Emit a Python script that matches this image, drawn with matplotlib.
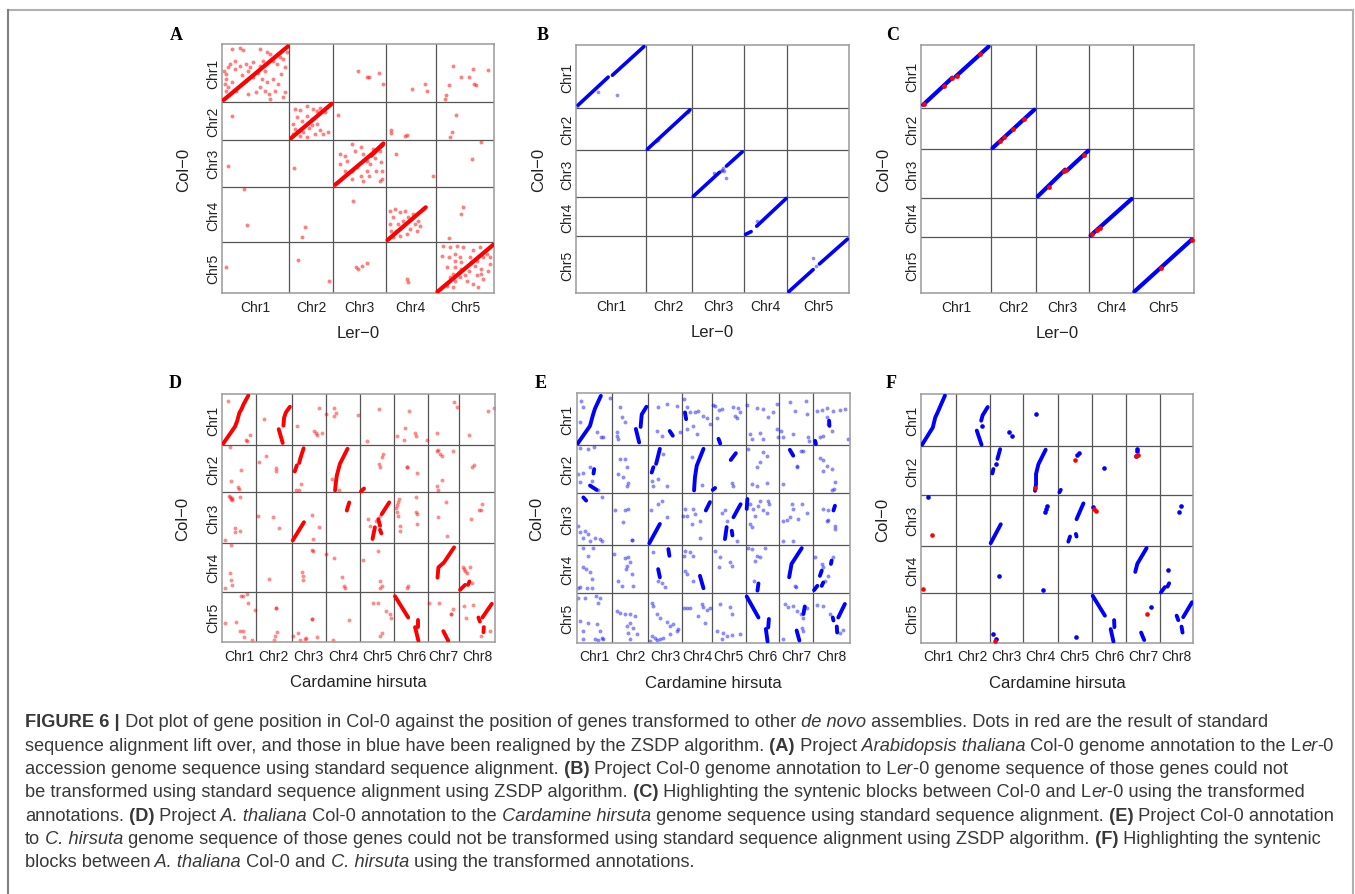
import matplotlib
matplotlib.use('Agg')
import matplotlib.pyplot as plt
from matplotlib.lines import Line2D
import numpy as np

plt.rcParams['font.family'] = ['Liberation Sans', 'DejaVu Sans']

W, H = 1355, 895
fig = plt.figure(figsize=(W / 100, H / 100), dpi=100)
fig.patch.set_facecolor('white')

col0_chr = ['Chr1', 'Chr2', 'Chr3', 'Chr4', 'Chr5']
ler_chr = ['Chr1', 'Chr2', 'Chr3', 'Chr4', 'Chr5']
chir_chr = ['Chr1', 'Chr2', 'Chr3', 'Chr4', 'Chr5', 'Chr6', 'Chr7', 'Chr8']

# chromosome extents as laid out in each panel (relative units)
a_xsize = [67.0, 43.7, 53.0, 49.7, 58.6]
a_ysize = [58.3, 37.4, 47.0, 55.6, 51.0]
b_xsize = [70.0, 45.7, 52.6, 42.7, 62.3]
b_ysize = [63.6, 41.7, 47.3, 39.0, 56.4]
c_xsize = [69.7, 45.0, 53.6, 43.2, 61.8]
c_ysize = [63.3, 41.3, 48.4, 39.0, 56.6]
d_xsize = [33.4, 36.0, 34.0, 34.6, 34.0, 34.0, 30.7, 36.0]
d_ysize = [51.0, 47.3, 50.7, 48.7, 50.6]
e_xsize = [35.0, 36.6, 34.0, 29.4, 34.0, 33.6, 34.0, 36.7]
e_ysize = [51.7, 48.3, 52.0, 47.7, 50.0]
f_xsize = [34.7, 34.0, 33.6, 34.4, 34.3, 34.0, 34.3, 32.7]
f_ysize = [52.3, 48.4, 51.0, 47.6, 49.7]

# blocks: (target chr, Col-0 chr, [(pos in target, pos in Col-0), ...]) as fraction of chromosome
# dots:   (target chr, Col-0 chr, pos in target, pos in Col-0)
a_blocks = [
    (1, 1, [(0.02, 0.04), (0.98, 0.96)]),
    (2, 2, [(0.04, 0.04), (0.97, 0.96)]),
    (3, 3, [(0.04, 0.04), (0.94, 0.89)]),
    (3, 3, [(0.72, 0.66), (0.95, 0.92)]),
    (4, 4, [(0.03, 0.04), (0.80, 0.63)]),
    (5, 5, [(0.03, 0.03), (0.98, 0.95)]),
]
a_dots = [
    (1, 1, 0.14, 0.91), (1, 1, 0.26, 0.93), (1, 1, 0.31, 0.90), (1, 1, 0.56, 0.92), (1, 1, 0.66, 0.86),
    (1, 1, 0.71, 0.83), (1, 1, 0.11, 0.66), (1, 1, 0.09, 0.60), (1, 1, 0.06, 0.49), (1, 1, 0.06, 0.40),
    (1, 1, 0.04, 0.31), (1, 1, 0.09, 0.26), (1, 1, 0.19, 0.71), (1, 1, 0.26, 0.63), (1, 1, 0.36, 0.66),
    (1, 1, 0.41, 0.60), (1, 1, 0.39, 0.54), (1, 1, 0.46, 0.69), (1, 1, 0.56, 0.63), (1, 1, 0.61, 0.71),
    (1, 1, 0.64, 0.54), (1, 1, 0.76, 0.71), (1, 1, 0.81, 0.66), (1, 1, 0.86, 0.77), (1, 1, 0.91, 0.74),
    (1, 1, 0.93, 0.60), (1, 1, 0.88, 0.49), (1, 1, 0.76, 0.40), (1, 1, 0.66, 0.34), (1, 1, 0.64, 0.20),
    (1, 1, 0.69, 0.14), (1, 1, 0.79, 0.20), (1, 1, 0.56, 0.26), (1, 1, 0.51, 0.17), (1, 1, 0.39, 0.14),
    (1, 1, 0.21, 0.20), (1, 1, 0.14, 0.34), (1, 1, 0.06, 0.20), (1, 1, 0.29, 0.46), (1, 1, 0.83, 0.31),
    (1, 1, 0.93, 0.17), (1, 1, 0.91, 0.09), (1, 1, 0.71, 0.06), (1, 1, 0.36, 0.37), (1, 1, 0.19, 0.57),
    (1, 1, 0.46, 0.43), (1, 1, 0.54, 0.51), (1, 1, 0.59, 0.40), (1, 1, 0.96, 0.86), (1, 1, 0.03, 0.54),
    (3, 1, 0.48, 0.53), (3, 1, 0.64, 0.43), (3, 1, 0.67, 0.44), (3, 1, 0.87, 0.50), (3, 1, 0.94, 0.31),
    (4, 1, 0.53, 0.22), (4, 1, 0.78, 0.31), (4, 1, 0.83, 0.20),
    (5, 1, 0.29, 0.63), (5, 1, 0.44, 0.44), (5, 1, 0.64, 0.57), (5, 1, 0.57, 0.43), (5, 1, 0.90, 0.55),
    (5, 1, 0.66, 0.31), (5, 1, 0.69, 0.30), (5, 1, 0.22, 0.29), (5, 1, 0.18, 0.13), (5, 1, 0.16, 0.06),
    (1, 2, 0.15, 0.64),
    (2, 2, 0.13, 0.82), (2, 2, 0.24, 0.79), (2, 2, 0.40, 0.91), (2, 2, 0.55, 0.82), (2, 2, 0.63, 0.76),
    (2, 2, 0.17, 0.60), (2, 2, 0.28, 0.51), (2, 2, 0.09, 0.42), (2, 2, 0.13, 0.29), (2, 2, 0.21, 0.24),
    (2, 2, 0.32, 0.20), (2, 2, 0.44, 0.31), (2, 2, 0.51, 0.38), (2, 2, 0.63, 0.42), (2, 2, 0.70, 0.26),
    (2, 2, 0.78, 0.15), (2, 2, 0.89, 0.20), (2, 2, 0.40, 0.64), (2, 2, 0.51, 0.55), (2, 2, 0.09, 0.15),
    (2, 2, 0.24, 0.11), (2, 2, 0.40, 0.06), (2, 2, 0.59, 0.15), (2, 2, 0.82, 0.73), (2, 2, 0.70, 0.86),
    (3, 2, 0.10, 0.67),
    (4, 2, 0.10, 0.26), (4, 2, 0.11, 0.17), (4, 2, 0.38, 0.11), (4, 2, 0.43, 0.13),
    (5, 2, 0.34, 0.65), (5, 2, 0.27, 0.20), (5, 2, 0.25, 0.08),
    (1, 3, 0.08, 0.43), (2, 3, 0.11, 0.40),
    (3, 3, 0.13, 0.70), (3, 3, 0.23, 0.66), (3, 3, 0.36, 0.91), (3, 3, 0.42, 0.77), (3, 3, 0.52, 0.84),
    (3, 3, 0.57, 0.70), (3, 3, 0.13, 0.48), (3, 3, 0.26, 0.55), (3, 3, 0.35, 0.34), (3, 3, 0.45, 0.41),
    (3, 3, 0.64, 0.55), (3, 3, 0.79, 0.62), (3, 3, 0.89, 0.77), (3, 3, 0.90, 0.52), (3, 3, 0.92, 0.34),
    (3, 3, 0.89, 0.13), (3, 3, 0.67, 0.23), (3, 3, 0.52, 0.23), (3, 3, 0.57, 0.13), (3, 3, 0.35, 0.16),
    (3, 3, 0.70, 0.48), (3, 3, 0.82, 0.34), (3, 3, 0.76, 0.80), (3, 3, 0.23, 0.34), (3, 3, 0.64, 0.34),
    (3, 3, 0.92, 0.16),
    (4, 3, 0.20, 0.70), (4, 3, 0.95, 0.23),
    (5, 3, 0.78, 0.96), (5, 3, 0.62, 0.60),
    (1, 4, 0.33, 0.96), (1, 4, 0.37, 0.31), (2, 4, 0.37, 0.28), (2, 4, 0.30, 0.09), (3, 4, 0.37, 0.75),
    (4, 4, 0.08, 0.57), (4, 4, 0.18, 0.60), (4, 4, 0.28, 0.54), (4, 4, 0.15, 0.45), (4, 4, 0.08, 0.33),
    (4, 4, 0.25, 0.33), (4, 4, 0.35, 0.39), (4, 4, 0.45, 0.45), (4, 4, 0.55, 0.51), (4, 4, 0.65, 0.39),
    (4, 4, 0.68, 0.30), (4, 4, 0.62, 0.21), (4, 4, 0.48, 0.24), (4, 4, 0.42, 0.15), (4, 4, 0.28, 0.12),
    (4, 4, 0.15, 0.09), (4, 4, 0.75, 0.60), (4, 4, 0.11, 0.21), (4, 4, 0.38, 0.57), (4, 4, 0.58, 0.33),
    (4, 4, 0.21, 0.21),
    (5, 4, 0.46, 0.63), (5, 4, 0.43, 0.51), (5, 4, 0.23, 0.07),
    (1, 5, 0.06, 0.52), (2, 5, 0.19, 0.65), (2, 5, 0.90, 0.25),
    (3, 5, 0.43, 0.52), (3, 5, 0.48, 0.48), (3, 5, 0.54, 0.54), (3, 5, 0.65, 0.60),
    (4, 5, 0.42, 0.29), (4, 5, 0.45, 0.22),
    (5, 5, 0.13, 0.93), (5, 5, 0.24, 0.90), (5, 5, 0.36, 0.93), (5, 5, 0.47, 0.90), (5, 5, 0.64, 0.84),
    (5, 5, 0.76, 0.90), (5, 5, 0.87, 0.77), (5, 5, 0.10, 0.74), (5, 5, 0.22, 0.71), (5, 5, 0.33, 0.64),
    (5, 5, 0.41, 0.71), (5, 5, 0.59, 0.71), (5, 5, 0.70, 0.64), (5, 5, 0.81, 0.71), (5, 5, 0.93, 0.58),
    (5, 5, 0.19, 0.51), (5, 5, 0.33, 0.51), (5, 5, 0.44, 0.48), (5, 5, 0.56, 0.44), (5, 5, 0.67, 0.54),
    (5, 5, 0.78, 0.48), (5, 5, 0.90, 0.44), (5, 5, 0.24, 0.31), (5, 5, 0.33, 0.25), (5, 5, 0.41, 0.31),
    (5, 5, 0.53, 0.25), (5, 5, 0.64, 0.18), (5, 5, 0.73, 0.12), (5, 5, 0.81, 0.28), (5, 5, 0.30, 0.12),
    (5, 5, 0.19, 0.15), (5, 5, 0.39, 0.41), (5, 5, 0.50, 0.35), (5, 5, 0.70, 0.35), (5, 5, 0.78, 0.38),
    (5, 5, 0.30, 0.38), (5, 5, 0.93, 0.71), (5, 5, 0.61, 0.61), (5, 5, 0.44, 0.61), (5, 5, 0.33, 0.77),
]

b_blocks = [
    (1, 1, [(0.03, 0.05), (0.46, 0.49)]), (1, 1, [(0.52, 0.52), (0.97, 0.97)]),
    (2, 2, [(0.03, 0.02), (0.96, 0.96)]),
    (3, 3, [(0.03, 0.02), (0.53, 0.53)]), (3, 3, [(0.66, 0.66), (0.96, 0.96)]),
    (4, 4, [(0.03, 0.05), (0.16, 0.12)]), (4, 4, [(0.29, 0.26), (0.98, 0.97)]),
    (5, 5, [(0.03, 0.02), (0.42, 0.41)]), (5, 5, [(0.52, 0.51), (0.97, 0.95)]),
]
b_dots = [
    (1, 1, 0.32, 0.25), (1, 1, 0.59, 0.21), (1, 1, 0.02, 0.03), (2, 2, 0.22, 0.22), (2, 2, 0.26, 0.25),
    (2, 2, 0.91, 0.90), (3, 3, 0.43, 0.51), (3, 3, 0.57, 0.58), (3, 3, 0.61, 0.56), (3, 3, 0.66, 0.41),
    (3, 3, 0.60, 0.62), (3, 3, 0.56, 0.56), (4, 4, 0.30, 0.40), (5, 5, 0.41, 0.61), (5, 5, 0.47, 0.47),
]

c_blocks = [
    (1, 1, [(0.03, 0.05), (0.45, 0.48)]), (1, 1, [(0.50, 0.50), (0.97, 0.97)]),
    (2, 2, [(0.04, 0.03), (0.97, 0.96)]),
    (3, 3, [(0.04, 0.03), (0.55, 0.58)]), (3, 3, [(0.60, 0.58), (0.98, 0.97)]),
    (4, 4, [(0.03, 0.03), (0.98, 0.97)]),
    (5, 5, [(0.03, 0.03), (0.96, 0.95)]),
]
c_red = [
    (1, 1, 0.04, 0.06), (1, 1, 0.33, 0.34), (1, 1, 0.44, 0.47), (1, 1, 0.51, 0.51), (1, 1, 0.85, 0.85),
    (2, 2, 0.21, 0.21), (2, 2, 0.30, 0.30), (2, 2, 0.49, 0.49), (2, 2, 0.74, 0.73),
    (3, 3, 0.24, 0.23), (3, 3, 0.53, 0.56), (3, 3, 0.56, 0.58), (3, 3, 0.90, 0.89),
    (4, 4, 0.07, 0.07), (4, 4, 0.18, 0.17), (4, 4, 0.25, 0.22),
    (5, 5, 0.46, 0.44), (5, 5, 0.96, 0.95),
]

d_blocks = [
    (1, 1, [(0.03, 0.03), (0.38, 0.36), (0.45, 0.48), (0.51, 0.63), (0.58, 0.71), (0.63, 0.79), (0.78, 0.97)]),
    (2, 1, [(0.95, 0.75), (0.84, 0.64), (0.79, 0.54), (0.77, 0.38)]), (2, 1, [(0.64, 0.31), (0.75, 0.04)]),
    (3, 2, [(0.35, 0.93), (0.26, 0.73), (0.22, 0.62)]), (3, 2, [(0.15, 0.57), (0.09, 0.44)]),
    (4, 2, [(0.63, 0.92), (0.41, 0.60), (0.32, 0.35), (0.29, 0.18), (0.27, 0.04)]),
    (5, 2, [(0.02, 0.02), (0.11, 0.08)]),
    (3, 3, [(0.03, 0.05), (0.36, 0.41)]),
    (4, 3, [(0.68, 0.80), (0.61, 0.64)]),
    (5, 3, [(0.85, 0.80), (0.63, 0.57)]), (5, 3, [(0.53, 0.47), (0.58, 0.34)]),
    (5, 3, [(0.43, 0.31), (0.36, 0.08)]), (5, 3, [(0.58, 0.26), (0.62, 0.19)]),
    (7, 4, [(0.84, 0.91), (0.51, 0.60), (0.33, 0.50), (0.30, 0.29)]),
    (8, 4, [(0.29, 0.21), (0.25, 0.14)]), (8, 4, [(0.17, 0.14), (0.03, 0.04)]),
    (6, 5, [(0.02, 0.91), (0.41, 0.49)]), (6, 5, [(0.71, 0.44), (0.71, 0.30)]), (6, 5, [(0.61, 0.30), (0.71, 0.03)]),
    (7, 5, [(0.49, 0.22), (0.65, 0.03)]),
    (8, 5, [(0.91, 0.76), (0.65, 0.49)]), (8, 5, [(0.54, 0.49), (0.58, 0.41)]), (8, 5, [(0.69, 0.30), (0.68, 0.20)]),
]
d_dots = [
    (1, 1, 0.16, 0.87), (1, 1, 0.75, 0.08), (1, 1, 0.83, 0.20), (1, 1, 0.71, 0.10),
    (2, 1, 0.23, 0.51),
    (3, 1, 0.67, 0.28), (3, 1, 0.71, 0.23), (3, 1, 0.74, 0.20), (3, 1, 0.16, 0.37), (3, 1, 0.79, 0.72), (3, 1, 0.90, 0.24),
    (4, 1, 0.24, 0.72), (4, 1, 0.29, 0.63), (4, 1, 0.23, 0.56), (4, 1, 0.02, 0.61), (4, 1, 0.94, 0.59),
    (5, 1, 0.56, 0.71), (5, 1, 0.21, 0.08),
    (6, 1, 0.44, 0.66), (6, 1, 0.31, 0.33), (6, 1, 0.61, 0.24), (6, 1, 0.63, 0.18), (6, 1, 0.07, 0.17),
    (6, 1, 0.29, 0.10), (6, 1, 0.95, 0.10),
    (7, 1, 0.84, 0.84), (7, 1, 0.92, 0.74), (7, 1, 0.29, 0.23),
    (8, 1, 0.97, 0.73), (8, 1, 0.81, 0.66), (8, 1, 0.28, 0.20),
    (1, 2, 0.23, 0.95), (1, 2, 0.55, 0.47), (1, 2, 0.26, 0.23), (1, 2, 0.48, 0.11), (1, 2, 0.51, 0.08),
    (2, 2, 0.09, 0.65), (2, 2, 0.28, 0.77), (2, 2, 0.56, 0.51), (2, 2, 0.56, 0.44),
    (3, 2, 0.26, 0.18), (3, 2, 0.21, 0.05), (3, 2, 0.12, 0.04),
    (4, 2, 0.19, 0.28), (4, 2, 0.37, 0.05),
    (5, 2, 0.68, 0.81), (5, 2, 0.63, 0.74), (5, 2, 0.56, 0.60), (5, 2, 0.58, 0.53),
    (6, 2, 0.38, 0.53), (6, 2, 0.38, 0.53), (6, 2, 0.66, 0.40),
    (7, 2, 0.27, 0.88), (7, 2, 0.38, 0.82), (7, 2, 0.43, 0.77), (7, 2, 0.33, 0.89), (7, 2, 0.79, 0.88),
    (7, 2, 0.43, 0.26), (7, 2, 0.27, 0.14), (7, 2, 0.33, 0.05),
    (8, 2, 0.42, 0.58), (8, 2, 0.35, 0.53),
    (1, 3, 0.20, 0.93), (1, 3, 0.25, 0.86), (1, 3, 0.28, 0.88), (1, 3, 0.30, 0.84), (1, 3, 0.22, 0.91),
    (1, 3, 0.53, 0.90), (1, 3, 0.38, 0.30), (1, 3, 0.38, 0.21), (1, 3, 0.54, 0.24), (1, 3, 0.08, 0.06),
    (2, 3, 0.06, 0.54), (2, 3, 0.49, 0.52), (2, 3, 0.66, 0.30),
    (3, 3, 0.59, 0.55), (3, 3, 0.81, 0.31), (3, 3, 0.64, 0.08),
    (5, 3, 0.24, 0.47), (5, 3, 0.46, 0.44), (5, 3, 0.28, 0.34), (5, 3, 0.58, 0.54),
    (6, 3, 0.15, 0.87), (6, 3, 0.12, 0.80), (6, 3, 0.07, 0.74), (6, 3, 0.05, 0.70), (6, 3, 0.09, 0.61),
    (6, 3, 0.10, 0.54), (6, 3, 0.17, 0.34), (6, 3, 0.17, 0.24), (6, 3, 0.64, 0.90), (6, 3, 0.64, 0.61),
    (6, 3, 0.66, 0.57), (6, 3, 0.68, 0.38),
    (7, 3, 0.57, 0.80), (7, 3, 0.33, 0.51), (7, 3, 0.62, 0.14),
    (8, 3, 0.63, 0.77), (8, 3, 0.56, 0.66), (8, 3, 0.60, 0.65), (8, 3, 0.33, 0.47),
    (1, 4, 0.25, 0.95), (1, 4, 0.23, 0.38), (1, 4, 0.26, 0.24), (1, 4, 0.30, 0.14), (1, 4, 0.08, 0.08),
    (2, 4, 0.37, 0.27),
    (3, 4, 0.59, 0.86), (3, 4, 0.64, 0.83), (3, 4, 0.29, 0.40), (3, 4, 0.32, 0.33), (3, 4, 0.34, 0.25),
    (4, 4, 0.02, 0.77), (4, 4, 0.25, 0.69), (4, 4, 0.46, 0.31), (4, 4, 0.53, 0.12), (4, 4, 0.56, 0.08),
    (5, 4, 0.07, 0.65), (5, 4, 0.52, 0.84), (5, 4, 0.58, 0.21), (5, 4, 0.63, 0.12), (5, 4, 0.58, 0.08),
    (6, 4, 0.39, 0.12), (6, 4, 0.36, 0.08),
    (8, 4, 0.12, 0.51), (8, 4, 0.15, 0.46), (8, 4, 0.18, 0.42), (8, 4, 0.22, 0.38), (8, 4, 0.31, 0.51), (8, 4, 0.37, 0.18),
    (1, 5, 0.56, 0.91), (1, 5, 0.63, 0.91), (1, 5, 0.73, 0.95), (1, 5, 0.78, 0.78), (1, 5, 0.98, 0.64),
    (1, 5, 0.08, 0.38), (1, 5, 0.40, 0.41), (1, 5, 0.53, 0.23), (1, 5, 0.63, 0.22), (1, 5, 0.65, 0.11),
    (1, 5, 0.88, 0.05),
    (2, 5, 0.56, 0.67), (2, 5, 0.56, 0.67), (2, 5, 0.60, 0.20), (2, 5, 0.54, 0.12), (2, 5, 0.52, 0.05),
    (3, 5, 0.59, 0.46), (3, 5, 0.59, 0.46), (3, 5, 0.05, 0.13), (3, 5, 0.18, 0.18), (3, 5, 0.23, 0.05),
    (3, 5, 0.39, 0.07), (3, 5, 0.42, 0.08), (3, 5, 0.74, 0.10),
    (4, 5, 0.67, 0.44), (4, 5, 0.22, 0.05),
    (5, 5, 0.38, 0.77), (5, 5, 0.53, 0.77), (5, 5, 0.77, 0.61), (5, 5, 0.87, 0.56), (5, 5, 0.90, 0.49),
    (5, 5, 0.58, 0.13), (5, 5, 0.63, 0.18),
    (7, 5, 0.03, 0.77), (7, 5, 0.36, 0.77), (7, 5, 0.82, 0.66), (7, 5, 0.73, 0.56), (7, 5, 0.73, 0.56),
    (8, 5, 0.14, 0.72), (8, 5, 0.19, 0.49), (8, 5, 0.40, 0.74), (8, 5, 0.86, 0.23), (8, 5, 0.60, 0.12),
]

e_blocks = [
    (1, 1, [(0.03, 0.03), (0.38, 0.37), (0.46, 0.57), (0.52, 0.70), (0.69, 0.95)]),
    (2, 1, [(0.95, 0.74), (0.82, 0.59), (0.79, 0.35)]), (2, 1, [(0.66, 0.31), (0.75, 0.05)]),
    (3, 1, [(0.63, 0.27), (0.72, 0.18)]),
    (4, 1, [(0.09, 0.63), (0.13, 0.50)]),
    (5, 1, [(0.20, 0.12), (0.25, 0.03)]),
    (8, 1, [(0.05, 0.08), (0.07, 0.02)]), (8, 1, [(0.43, 0.47), (0.44, 0.37)]),
    (1, 2, [(0.50, 0.50), (0.48, 0.41)]), (1, 2, [(0.38, 0.16), (0.57, 0.07)]),
    (3, 2, [(0.34, 0.92), (0.23, 0.61)]), (3, 2, [(0.15, 0.54), (0.10, 0.43)]),
    (4, 2, [(0.72, 0.92), (0.49, 0.57), (0.43, 0.33), (0.40, 0.06)]),
    (5, 2, [(0.71, 0.83), (0.56, 0.69)]), (5, 2, [(0.03, 0.07), (0.10, 0.11)]),
    (7, 2, [(0.31, 0.90), (0.41, 0.78)]),
    (1, 3, [(0.19, 0.92), (0.27, 0.86)]),
    (3, 3, [(0.03, 0.04), (0.34, 0.41)]),
    (4, 3, [(0.94, 0.83), (0.80, 0.67)]),
    (5, 3, [(0.85, 0.79), (0.64, 0.54)]), (5, 3, [(0.44, 0.35), (0.39, 0.12)]), (5, 3, [(0.59, 0.28), (0.61, 0.19)]),
    (6, 3, [(0.05, 0.89), (0.03, 0.70)]),
    (8, 3, [(0.59, 0.76), (0.55, 0.67)]),
    (3, 4, [(0.59, 0.92), (0.62, 0.78)]), (3, 4, [(0.29, 0.50), (0.34, 0.33)]),
    (4, 4, [(0.60, 0.36), (0.72, 0.10)]),
    (6, 4, [(0.38, 0.20), (0.35, 0.05)]),
    (7, 4, [(0.66, 0.94), (0.36, 0.61), (0.29, 0.33)]),
    (8, 4, [(0.50, 0.68), (0.48, 0.61)]), (8, 4, [(0.23, 0.47), (0.18, 0.36)]),
    (8, 4, [(0.27, 0.22), (0.23, 0.15)]), (8, 4, [(0.11, 0.15), (0.02, 0.06)]),
    (6, 5, [(0.03, 0.93), (0.38, 0.51)]), (6, 5, [(0.69, 0.48), (0.67, 0.31)]), (6, 5, [(0.60, 0.28), (0.65, 0.03)]),
    (7, 5, [(0.75, 0.73), (0.71, 0.58)]), (7, 5, [(0.51, 0.25), (0.59, 0.05)]),
    (8, 5, [(0.86, 0.78), (0.68, 0.51)]), (8, 5, [(0.53, 0.51), (0.55, 0.45)]), (8, 5, [(0.64, 0.33), (0.65, 0.21)]),
]
e_dots = [
    (1, 1, 0.11, 0.86), (1, 1, 0.17, 0.74), (1, 1, 0.08, 0.44), (1, 1, 0.57, 0.25), (1, 1, 0.69, 0.15),
    (1, 1, 0.74, 0.16), (1, 1, 0.95, 0.91),
    (2, 1, 0.23, 0.73), (2, 1, 0.27, 0.54), (2, 1, 0.36, 0.44), (2, 1, 0.14, 0.25), (2, 1, 0.15, 0.18), (2, 1, 0.18, 0.12),
    (3, 1, 0.29, 0.73), (3, 1, 0.54, 0.79), (3, 1, 0.83, 0.76), (3, 1, 0.25, 0.28), (3, 1, 0.39, 0.18), (3, 1, 0.93, 0.25),
    (4, 1, 0.06, 0.89), (4, 1, 0.17, 0.73), (4, 1, 0.26, 0.63), (4, 1, 0.43, 0.63), (4, 1, 0.55, 0.66),
    (4, 1, 0.72, 0.57), (4, 1, 0.83, 0.53), (4, 1, 0.94, 0.41), (4, 1, 0.38, 0.37), (4, 1, 0.49, 0.21), (4, 1, 0.15, 0.31),
    (5, 1, 0.05, 0.78), (5, 1, 0.10, 0.76), (5, 1, 0.20, 0.68), (5, 1, 0.29, 0.70), (5, 1, 0.15, 0.52),
    (5, 1, 0.64, 0.73), (5, 1, 0.78, 0.72), (5, 1, 0.83, 0.63), (5, 1, 0.69, 0.57), (5, 1, 0.74, 0.53),
    (6, 1, 0.05, 0.78), (6, 1, 0.33, 0.72), (6, 1, 0.52, 0.70), (6, 1, 0.67, 0.54), (6, 1, 0.82, 0.63),
    (6, 1, 0.13, 0.21), (6, 1, 0.18, 0.12), (6, 1, 0.43, 0.23), (6, 1, 0.52, 0.12), (6, 1, 0.92, 0.31),
    (6, 1, 0.97, 0.15), (6, 1, 0.94, 0.79),
    (7, 1, 0.31, 0.83), (7, 1, 0.46, 0.66), (7, 1, 0.78, 0.85), (7, 1, 0.82, 0.60), (7, 1, 0.04, 0.28),
    (7, 1, 0.12, 0.15), (7, 1, 0.41, 0.21), (7, 1, 0.85, 0.15), (7, 1, 0.88, 0.08),
    (8, 1, 0.11, 0.65), (8, 1, 0.23, 0.68), (8, 1, 0.36, 0.72), (8, 1, 0.55, 0.66), (8, 1, 0.73, 0.68),
    (8, 1, 0.86, 0.70), (8, 1, 0.36, 0.54), (8, 1, 0.41, 0.41), (8, 1, 0.50, 0.28), (8, 1, 0.18, 0.15),
    (8, 1, 0.27, 0.18), (8, 1, 0.95, 0.12),
    (1, 2, 0.08, 0.94), (1, 2, 0.33, 0.92), (1, 2, 0.48, 0.95), (1, 2, 0.05, 0.40), (1, 2, 0.10, 0.24),
    (1, 2, 0.17, 0.43), (1, 2, 0.38, 0.54), (1, 2, 0.43, 0.26), (1, 2, 0.62, 0.06),
    (2, 2, 0.23, 0.71), (2, 2, 0.36, 0.71), (2, 2, 0.41, 0.54), (2, 2, 0.18, 0.40), (2, 2, 0.32, 0.33),
    (2, 2, 0.45, 0.21), (2, 2, 0.41, 0.16),
    (3, 2, 0.10, 0.26), (3, 2, 0.15, 0.16), (3, 2, 0.54, 0.16), (3, 2, 0.29, 0.30), (3, 2, 0.44, 0.81),
    (4, 2, 0.34, 0.76), (4, 2, 0.66, 0.17),
    (5, 2, 0.59, 0.21), (5, 2, 0.64, 0.16),
    (6, 2, 0.08, 0.91), (6, 2, 0.52, 0.85), (6, 2, 0.62, 0.78), (6, 2, 0.43, 0.64), (6, 2, 0.35, 0.54),
    (6, 2, 0.18, 0.19), (6, 2, 0.33, 0.16), (6, 2, 0.62, 0.21),
    (7, 2, 0.12, 0.19), (7, 2, 0.63, 0.88), (7, 2, 0.71, 0.88), (7, 2, 0.51, 0.57), (7, 2, 0.52, 0.55),
    (8, 2, 0.18, 0.74), (8, 2, 0.27, 0.68), (8, 2, 0.36, 0.57), (8, 2, 0.50, 0.50), (8, 2, 0.27, 0.46),
    (8, 2, 0.59, 0.23), (8, 2, 0.56, 0.09), (8, 2, 0.50, 0.06),
    (1, 3, 0.71, 0.92), (1, 3, 0.05, 0.38), (1, 3, 0.10, 0.25), (1, 3, 0.24, 0.28), (1, 3, 0.33, 0.22),
    (1, 3, 0.52, 0.15), (1, 3, 0.67, 0.12), (1, 3, 0.71, 0.09), (1, 3, 0.38, 0.09), (1, 3, 0.19, 0.14),
    (2, 3, 0.09, 0.67), (2, 3, 0.36, 0.67), (2, 3, 0.45, 0.70), (2, 3, 0.32, 0.44), (2, 3, 0.55, 0.11), (2, 3, 0.55, 0.11),
    (3, 3, 0.29, 0.79), (3, 3, 0.39, 0.86), (3, 3, 0.54, 0.54), (3, 3, 0.07, 0.67),
    (4, 3, 0.09, 0.70), (4, 3, 0.15, 0.57), (4, 3, 0.38, 0.70), (4, 3, 0.43, 0.60), (4, 3, 0.32, 0.41),
    (4, 3, 0.60, 0.46), (4, 3, 0.03, 0.57), (4, 3, 0.60, 0.14),
    (5, 3, 0.29, 0.63), (5, 3, 0.39, 0.67), (5, 3, 0.44, 0.47), (5, 3, 0.74, 0.09),
    (6, 3, 0.13, 0.79), (6, 3, 0.21, 0.70), (6, 3, 0.28, 0.57), (6, 3, 0.38, 0.76), (6, 3, 0.43, 0.86),
    (6, 3, 0.67, 0.86), (6, 3, 0.70, 0.79), (6, 3, 0.52, 0.67), (6, 3, 0.62, 0.62), (6, 3, 0.13, 0.41), (6, 3, 0.18, 0.35),
    (7, 3, 0.36, 0.79), (7, 3, 0.41, 0.70), (7, 3, 0.66, 0.79), (7, 3, 0.80, 0.63), (7, 3, 0.12, 0.47),
    (7, 3, 0.22, 0.49), (7, 3, 0.31, 0.54), (7, 3, 0.56, 0.51), (7, 3, 0.10, 0.09), (7, 3, 0.41, 0.08),
    (8, 3, 0.27, 0.70), (8, 3, 0.41, 0.67), (8, 3, 0.36, 0.47), (8, 3, 0.41, 0.49), (8, 3, 0.59, 0.38), (8, 3, 0.59, 0.31),
    (1, 4, 0.19, 0.94), (1, 4, 0.46, 0.94), (1, 4, 0.33, 0.78), (1, 4, 0.19, 0.54), (1, 4, 0.27, 0.50),
    (1, 4, 0.38, 0.43), (1, 4, 0.43, 0.29), (1, 4, 0.03, 0.10), (1, 4, 0.10, 0.13), (1, 4, 0.29, 0.10), (1, 4, 0.43, 0.10),
    (2, 4, 0.05, 0.82), (2, 4, 0.36, 0.73), (2, 4, 0.45, 0.75), (2, 4, 0.50, 0.64), (2, 4, 0.41, 0.57),
    (2, 4, 0.39, 0.50), (2, 4, 0.55, 0.40), (2, 4, 0.18, 0.26), (2, 4, 0.27, 0.15), (2, 4, 0.59, 0.15),
    (3, 4, 0.15, 0.85), (3, 4, 0.49, 0.12), (3, 4, 0.39, 0.22), (3, 4, 0.29, 0.26),
    (4, 4, 0.09, 0.89), (4, 4, 0.06, 0.78), (4, 4, 0.26, 0.85), (4, 4, 0.38, 0.78), (4, 4, 0.09, 0.47),
    (4, 4, 0.15, 0.40), (4, 4, 0.38, 0.26),
    (5, 4, 0.10, 0.89), (5, 4, 0.25, 0.75), (5, 4, 0.54, 0.64), (5, 4, 0.59, 0.57), (5, 4, 0.20, 0.54),
    (6, 4, 0.08, 0.94), (6, 4, 0.18, 0.92), (6, 4, 0.57, 0.94), (6, 4, 0.33, 0.78), (6, 4, 0.28, 0.68),
    (6, 4, 0.43, 0.75), (6, 4, 0.25, 0.26),
    (7, 4, 0.46, 0.15), (7, 4, 0.49, 0.12),
    (8, 4, 0.05, 0.75), (8, 4, 0.23, 0.61), (8, 4, 0.27, 0.54), (8, 4, 0.41, 0.36), (8, 4, 0.32, 0.26), (8, 4, 0.55, 0.75),
    (1, 5, 0.05, 0.91), (1, 5, 0.24, 0.91), (1, 5, 0.55, 0.95), (1, 5, 0.67, 0.91), (1, 5, 0.62, 0.81),
    (1, 5, 0.33, 0.41), (1, 5, 0.10, 0.45), (1, 5, 0.19, 0.25), (1, 5, 0.57, 0.38), (1, 5, 0.67, 0.25),
    (1, 5, 0.52, 0.08), (1, 5, 0.62, 0.06), (1, 5, 0.71, 0.11), (1, 5, 0.76, 0.08), (1, 5, 0.19, 0.08),
    (2, 5, 0.14, 0.65), (2, 5, 0.23, 0.61), (2, 5, 0.36, 0.58), (2, 5, 0.50, 0.58), (2, 5, 0.64, 0.55),
    (2, 5, 0.50, 0.41), (2, 5, 0.59, 0.31), (2, 5, 0.68, 0.18), (2, 5, 0.45, 0.21), (2, 5, 0.50, 0.08), (2, 5, 0.41, 0.35),
    (3, 5, 0.10, 0.81), (3, 5, 0.15, 0.75), (3, 5, 0.25, 0.58), (3, 5, 0.34, 0.51), (3, 5, 0.54, 0.43),
    (3, 5, 0.64, 0.35), (3, 5, 0.74, 0.38), (3, 5, 0.83, 0.25), (3, 5, 0.88, 0.28), (3, 5, 0.64, 0.18),
    (3, 5, 0.44, 0.11), (3, 5, 0.10, 0.15), (3, 5, 0.20, 0.11), (3, 5, 0.25, 0.06), (3, 5, 0.34, 0.08), (3, 5, 0.05, 0.05),
    (4, 5, 0.06, 0.70), (4, 5, 0.15, 0.70), (4, 5, 0.26, 0.70), (4, 5, 0.66, 0.79), (4, 5, 0.72, 0.73),
    (4, 5, 0.83, 0.66), (4, 5, 0.94, 0.70), (4, 5, 0.55, 0.55), (4, 5, 0.77, 0.41),
    (5, 5, 0.25, 0.79), (5, 5, 0.54, 0.73), (5, 5, 0.59, 0.58), (5, 5, 0.34, 0.21), (5, 5, 0.44, 0.15),
    (5, 5, 0.59, 0.17), (5, 5, 0.83, 0.19), (5, 5, 0.15, 0.25), (5, 5, 0.29, 0.08),
    (7, 5, 0.17, 0.78), (7, 5, 0.26, 0.73), (7, 5, 0.41, 0.75), (7, 5, 0.51, 0.65), (7, 5, 0.63, 0.58),
    (7, 5, 0.69, 0.51), (7, 5, 0.80, 0.71), (7, 5, 0.66, 0.31), (7, 5, 0.71, 0.25), (7, 5, 0.12, 0.08),
    (8, 5, 0.09, 0.77), (8, 5, 0.27, 0.75), (8, 5, 0.45, 0.58), (8, 5, 0.73, 0.21), (8, 5, 0.82, 0.26),
]

f_blocks = [
    (1, 1, [(0.03, 0.03), (0.34, 0.36), (0.41, 0.55), (0.48, 0.65), (0.69, 0.97)]),
    (2, 1, [(0.94, 0.75), (0.79, 0.59), (0.75, 0.49)]), (2, 1, [(0.62, 0.30), (0.76, 0.03)]),
    (3, 2, [(0.31, 0.94), (0.23, 0.74)]), (3, 2, [(0.11, 0.53), (0.08, 0.44)]),
    (4, 2, [(0.65, 0.93), (0.44, 0.63), (0.37, 0.43), (0.37, 0.22), (0.34, 0.08)]),
    (5, 2, [(0.09, 0.10), (0.05, 0.05)]),
    (3, 3, [(0.03, 0.05), (0.33, 0.42)]),
    (5, 3, [(0.75, 0.83), (0.55, 0.52)]), (5, 3, [(0.36, 0.18), (0.31, 0.08)]), (5, 3, [(0.53, 0.23), (0.55, 0.18)]),
    (7, 4, [(0.60, 0.95), (0.33, 0.62), (0.27, 0.45)]),
    (8, 4, [(0.27, 0.21), (0.22, 0.14)]), (8, 4, [(0.14, 0.13), (0.02, 0.02)]),
    (6, 5, [(0.02, 0.95), (0.38, 0.55)]), (6, 5, [(0.65, 0.46), (0.66, 0.32)]), (6, 5, [(0.55, 0.28), (0.63, 0.03)]),
    (7, 5, [(0.44, 0.21), (0.53, 0.06)]),
    (8, 5, [(0.97, 0.82), (0.70, 0.52)]), (8, 5, [(0.50, 0.55), (0.55, 0.46)]), (8, 5, [(0.65, 0.33), (0.68, 0.21)]),
]
f_blue = [
    (2, 1, 0.77, 0.38), (3, 1, 0.58, 0.28), (3, 1, 0.66, 0.19), (4, 1, 0.36, 0.62),
    (3, 2, 0.19, 0.63), (5, 2, 0.62, 0.86), (5, 2, 0.57, 0.82), (6, 2, 0.35, 0.55),
    (7, 2, 0.31, 0.94), (7, 2, 0.33, 0.90), (7, 2, 0.29, 0.79),
    (1, 3, 0.21, 0.95), (4, 3, 0.70, 0.78), (4, 3, 0.66, 0.72), (4, 3, 0.63, 0.67), (6, 3, 0.04, 0.75),
    (8, 3, 0.63, 0.77), (8, 3, 0.57, 0.67),
    (3, 4, 0.29, 0.37), (4, 4, 0.58, 0.06), (8, 4, 0.24, 0.48),
    (3, 5, 0.09, 0.18), (3, 5, 0.19, 0.08), (5, 5, 0.53, 0.13), (7, 5, 0.73, 0.73),
]
f_red = [
    (4, 2, 0.35, 0.14), (5, 2, 0.50, 0.72), (7, 2, 0.36, 0.81), (7, 2, 0.29, 0.80),
    (1, 3, 0.33, 0.21), (6, 3, 0.07, 0.72), (6, 3, 0.12, 0.69),
    (1, 4, 0.07, 0.08), (3, 5, 0.16, 0.05), (7, 5, 0.60, 0.58),
]

RED = '#ff0000'
BLUE = '#0000ff'


def px_axes(box):
    x0, y0, x1, y1 = box
    return fig.add_axes([x0 / W, 1 - y1 / H, (x1 - x0) / W, (y1 - y0) / H])


def grid_panel(box, xsize, ysize, xnames, xlabel, letter, letter_xy, ylab_x):
    ax = px_axes(box)
    xe = np.concatenate([[0], np.cumsum(xsize)])
    ye = np.concatenate([[0], np.cumsum(ysize[::-1])])
    ax.set_xlim(0, xe[-1])
    ax.set_ylim(0, ye[-1])
    for v in xe[1:-1]:
        ax.axvline(v, color='#555555', lw=0.9, zorder=1)
    for v in ye[1:-1]:
        ax.axhline(v, color='#555555', lw=0.9, zorder=1)
    for s in ax.spines.values():
        s.set_color('#9a9a9a')
        s.set_linewidth(1.1)
    ax.set_xticks((xe[:-1] + xe[1:]) / 2, xnames)
    ax.set_yticks((ye[:-1] + ye[1:]) / 2, col0_chr[::-1], rotation=90, va='center')
    ax.tick_params(length=0, labelsize=10, labelcolor='#222222')
    ax.tick_params(axis='x', pad=4.5)
    ax.tick_params(axis='y', pad=1.5)
    cx = (box[0] + box[2]) / 2
    cy = (box[1] + box[3]) / 2
    fig.text(cx / W, 1 - (box[3] + 39) / H, xlabel, ha='center', va='center', fontsize=12, color='#222222')
    fig.text(ylab_x / W, 1 - cy / H, 'Col\u22120', ha='center', va='center', rotation=90,
             fontsize=12, color='#222222')
    fig.text(letter_xy[0] / W, 1 - letter_xy[1] / H, letter, ha='center', va='center',
             fontsize=13, fontweight='bold', family=['Liberation Serif', 'DejaVu Serif'])
    return ax


def to_data(xsize, ysize, col, row, fx, fy):
    x = sum(xsize[:col - 1]) + fx * xsize[col - 1]
    y = sum(ysize[row:]) + fy * ysize[row - 1]
    return x, y


def draw_blocks(ax, xsize, ysize, blocks, color, lw=2.8):
    for col, row, pts in blocks:
        xy = [to_data(xsize, ysize, col, row, fx, fy) for fx, fy in pts]
        ax.plot([p[0] for p in xy], [p[1] for p in xy], color=color, lw=lw,
                solid_capstyle='round', solid_joinstyle='round', zorder=3)


def draw_dots(ax, xsize, ysize, dots, color, s=7, alpha=0.45, z=2):
    xy = np.array([to_data(xsize, ysize, c, r, fx, fy) for c, r, fx, fy in dots])
    ax.scatter(xy[:, 0], xy[:, 1], s=s, color=color, alpha=alpha, linewidths=0, zorder=z)


box_a = (222.3, 45, 494.3, 294.3)
box_b = (576, 45.7, 849.3, 293.7)
box_c = (921, 45.7, 1194.3, 294.3)
box_d = (222.3, 395, 495, 643.3)
box_e = (576.7, 394.3, 850, 644)
box_f = (921, 395, 1193, 644)

ax = grid_panel(box_a, a_xsize, a_ysize, ler_chr, 'Ler\u22120', 'A', (176, 36), 184)
draw_dots(ax, a_xsize, a_ysize, a_dots, RED, s=8, alpha=0.5)
draw_blocks(ax, a_xsize, a_ysize, a_blocks, RED, lw=3.0)

ax = grid_panel(box_b, b_xsize, b_ysize, ler_chr, 'Ler\u22120', 'B', (543, 36), 539)
draw_dots(ax, b_xsize, b_ysize, b_dots, BLUE, s=7, alpha=0.45)
draw_blocks(ax, b_xsize, b_ysize, b_blocks, BLUE, lw=2.6)

ax = grid_panel(box_c, c_xsize, c_ysize, ler_chr, 'Ler\u22120', 'C', (893, 36), 884)
draw_blocks(ax, c_xsize, c_ysize, c_blocks, BLUE, lw=3.0)
draw_dots(ax, c_xsize, c_ysize, c_red, RED, s=12, alpha=1.0, z=4)

ax = grid_panel(box_d, d_xsize, d_ysize, chir_chr, 'Cardamine hirsuta', 'D', (175, 384), 183)
draw_dots(ax, d_xsize, d_ysize, d_dots, RED, s=8, alpha=0.45)
draw_blocks(ax, d_xsize, d_ysize, d_blocks, RED, lw=2.8)

ax = grid_panel(box_e, e_xsize, e_ysize, chir_chr, 'Cardamine hirsuta', 'E', (541, 384), 537)
draw_dots(ax, e_xsize, e_ysize, e_dots, BLUE, s=8, alpha=0.45)
draw_blocks(ax, e_xsize, e_ysize, e_blocks, BLUE, lw=2.8)

ax = grid_panel(box_f, f_xsize, f_ysize, chir_chr, 'Cardamine hirsuta', 'F', (891, 384), 883)
draw_blocks(ax, f_xsize, f_ysize, f_blocks, BLUE, lw=2.8)
draw_dots(ax, f_xsize, f_ysize, f_blue, BLUE, s=11, alpha=1.0, z=4)
draw_dots(ax, f_xsize, f_ysize, f_red, RED, s=11, alpha=1.0, z=5)

# page frame
for (xa, ya, xb, yb, c) in [(8, 11, 1353, 11, '#b0b0b0'), (8, 11, 8, 895, '#808080'), (1353, 11, 1353, 895, '#b0b0b0')]:
    fig.add_artist(Line2D([xa / W, xb / W], [1 - ya / H, 1 - yb / H], color=c, lw=1.5))

# caption: runs of (text, style)
cap_lines = [
    [('FIGURE 6 |', 'b'), (' Dot plot of gene position in Col-0 against the position of genes transformed to other', ''),
     (' de novo', 'i'), (' assemblies. Dots in red are the result of standard', '')],
    [('sequence alignment lift over, and those in blue have been realigned by the ZSDP algorithm.', ''), (' (A)', 'b'),
     (' Project', ''), (' Arabidopsis thaliana', 'i'), (' Col-0 genome annotation to the L', ''), ('er', 'i'), ('-0', '')],
    [('accession genome sequence using standard sequence alignment.', ''), (' (B)', 'b'),
     (' Project Col-0 genome annotation to L', ''), ('er', 'i'), ('-0 genome sequence of those genes could not', '')],
    [('be transformed using standard sequence alignment using ZSDP algorithm.', ''), (' (C)', 'b'),
     (' Highlighting the syntenic blocks between Col-0 and L', ''), ('er', 'i'), ('-0 using the transformed', '')],
    [('annotations.', ''), (' (D)', 'b'), (' Project', ''), (' A. thaliana', 'i'), (' Col-0 annotation to the', ''),
     (' Cardamine hirsuta', 'i'), (' genome sequence using standard sequence alignment.', ''), (' (E)', 'b'),
     (' Project Col-0 annotation', '')],
    [('to', ''), (' C. hirsuta', 'i'),
     (' genome sequence of those genes could not be transformed using standard sequence alignment using ZSDP algorithm.', ''),
     (' (F)', 'b'), (' Highlighting the syntenic', '')],
    [('blocks between', ''), (' A. thaliana', 'i'), (' Col-0 and', ''), (' C. hirsuta', 'i'),
     (' using the transformed annotations.', '')],
]
cap_y = [721, 744.3, 767.7, 791, 814.3, 837.7, 861]

renderer = fig.canvas.get_renderer()


def style_kw(st, size):
    return dict(fontsize=size, fontweight='bold' if 'b' in st else 'normal',
                fontstyle='italic' if 'i' in st else 'normal', color='#383838')


def line_width(runs, size):
    total = 0
    for txt, st in runs:
        t = fig.text(0, 0, txt, **style_kw(st, size))
        total += t.get_window_extent(renderer).width
        t.remove()
    return total


base = 11.0
cap_size = base * 1310 / line_width(cap_lines[1], base)

for runs, yc in zip(cap_lines, cap_y):
    x = 25
    for txt, st in runs:
        t = fig.text(x / W, 1 - yc / H, txt, va='center_baseline', ha='left', **style_kw(st, cap_size))
        x += t.get_window_extent(renderer).width

fig.savefig('out.png', dpi=100, facecolor='white')
